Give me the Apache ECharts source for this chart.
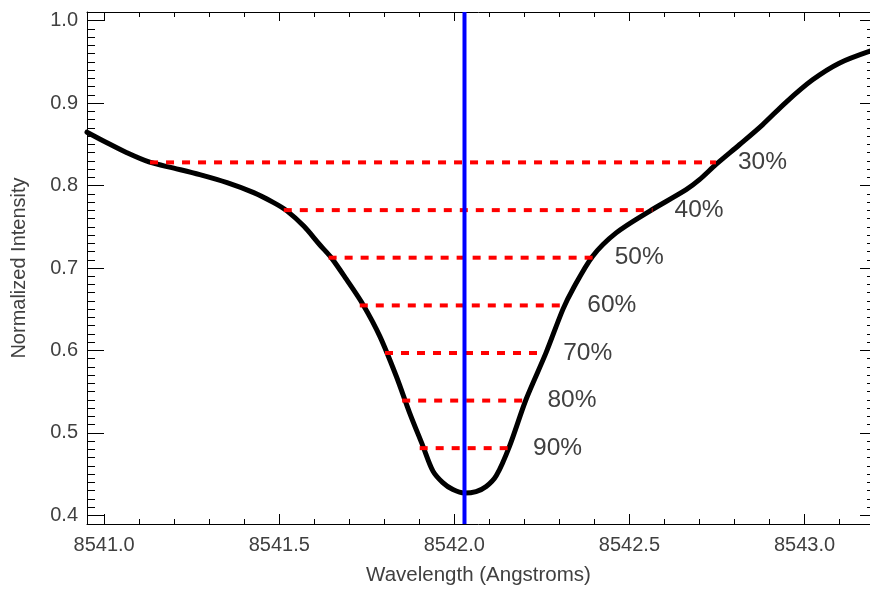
<!DOCTYPE html>
<html>
<head>
<meta charset="utf-8">
<script src="https://cdn.jsdelivr.net/npm/echarts@6.0.0/dist/echarts.min.js"></script>
<style>
  html, body { margin: 0; padding: 0; background: #ffffff; }
  #chart { width: 870px; height: 591px; }
</style>
</head>
<body>
<div id="chart"></div>
<script>
// Ca II 8542 line profile with bisector levels
const wavelength = [
  8540.951, 8541.008, 8541.065, 8541.130, 8541.199, 8541.273, 8541.351, 8541.427,
  8541.484, 8541.521, 8541.570, 8541.615, 8541.649, 8541.692, 8541.739, 8541.787,
  8541.834, 8541.872, 8541.910, 8541.939, 8541.967, 8541.996, 8542.029, 8542.062,
  8542.091, 8542.120, 8542.158, 8542.205, 8542.262, 8542.310, 8542.338, 8542.395,
  8542.462, 8542.557, 8542.662, 8542.700, 8542.748, 8542.814, 8542.880, 8542.947,
  8543.023, 8543.099, 8543.187
];
const intensity = [
  0.8647, 0.8519, 0.8398, 0.8283, 0.8211, 0.8132, 0.8035, 0.7914,
  0.7793, 0.7696, 0.7508, 0.7285, 0.7123, 0.6861, 0.6558, 0.6174,
  0.5690, 0.5247, 0.4843, 0.4536, 0.4397, 0.4312, 0.4270, 0.4288,
  0.4349, 0.4482, 0.4843, 0.5408, 0.5973, 0.6498, 0.6740, 0.7143,
  0.7426, 0.7688, 0.7950, 0.8071, 0.8259, 0.8495, 0.8737, 0.9010,
  0.9282, 0.9484, 0.9630
];

// bisector levels: depth label, intensity, blue-wing and red-wing wavelengths
const levelNames = ['30%', '40%', '50%', '60%', '70%', '80%', '90%'];
const levelIntensity = [0.8281, 0.7702, 0.7125, 0.6546, 0.5969, 0.5392, 0.4815];
const levelBlueWing = [8541.131, 8541.513, 8541.641, 8541.730, 8541.802, 8541.851, 8541.901];
const levelRedWing = [8542.747, 8542.566, 8542.395, 8542.317, 8542.248, 8542.203, 8542.162];

// line centre
const lineCenter = 8542.029;

// axis ranges and tick labels
const xRange = [8540.951, 8543.187];
const yRange = [0.3895, 1.0105];
const xTickValues = [8541.0, 8541.5, 8542.0, 8542.5, 8543.0];
const yTickValues = [0.4, 0.5, 0.6, 0.7, 0.8, 0.9, 1.0];

const xMinorValues = [];
for (let i = 0; i <= 21; i++) xMinorValues.push(+(8541.0 + i * 0.1).toFixed(1));
const yMinorValues = [];
for (let i = 0; i <= 60; i++) yMinorValues.push(+(0.40 + i * 0.01).toFixed(2));

const FONT = 'Liberation Sans, Arial, sans-serif';
const TEXT = '#404040';

function xAxisDef(position, values, len, withLine, withLabels) {
  return {
    type: 'value', position: position, min: xRange[0], max: xRange[1],
    splitLine: { show: false },
    axisLine: { show: withLine, lineStyle: { color: '#000', width: 1 } },
    axisTick: { show: true, inside: true, length: len, customValues: values,
                lineStyle: { color: '#000', width: 1 } },
    axisLabel: withLabels ? {
      show: true, customValues: values, margin: 11,
      fontSize: 20, fontFamily: FONT, color: TEXT,
      formatter: v => v.toFixed(1)
    } : { show: false }
  };
}
function yAxisDef(position, values, len, withLine, withLabels) {
  return {
    type: 'value', position: position, min: yRange[0], max: yRange[1],
    splitLine: { show: false },
    axisLine: { show: withLine, lineStyle: { color: '#000', width: 1 } },
    axisTick: { show: true, inside: true, length: len, customValues: values,
                lineStyle: { color: '#000', width: 1 } },
    axisLabel: withLabels ? {
      show: true, customValues: values, margin: 9,
      fontSize: 20, fontFamily: FONT, color: TEXT,
      formatter: v => v.toFixed(1)
    } : { show: false }
  };
}

const xAxes = [
  Object.assign(xAxisDef('bottom', xTickValues, 10, true, true), {
    name: 'Wavelength (Angstroms)', nameLocation: 'middle', nameGap: 41,
    nameTextStyle: { fontSize: 20.5, fontFamily: FONT, color: TEXT }
  }),
  xAxisDef('bottom', xMinorValues, 5, false, false),
  xAxisDef('top', xTickValues, 9, true, false),
  xAxisDef('top', xMinorValues, 5, false, false)
];
const yAxes = [
  Object.assign(yAxisDef('left', yTickValues, 17, true, true), {
    name: 'Normalized Intensity', nameLocation: 'middle', nameGap: 58,
    nameTextStyle: { fontSize: 20, fontFamily: FONT, color: TEXT }
  }),
  yAxisDef('left', yMinorValues, 8, false, false),
  yAxisDef('right', yTickValues, 10, true, false),
  yAxisDef('right', yMinorValues, 3, false, false)
];

const series = [];

// observed profile
series.push({
  type: 'line', name: 'profile', z: 2,
  data: wavelength.map((w, i) => [w, intensity[i]]),
  smooth: 0.3, showSymbol: false, symbol: 'none',
  lineStyle: { color: '#000', width: 5, cap: 'round', join: 'round' },
  clip: true
});

// bisector chords with their depth labels
levelNames.forEach((name, i) => {
  series.push({
    type: 'line', name: name, z: 3,
    data: [[levelBlueWing[i], levelIntensity[i]], [levelRedWing[i], levelIntensity[i]]],
    showSymbol: false, symbol: 'none',
    lineStyle: { color: '#ff0000', width: 4, type: [8, 8], cap: 'butt' },
    endLabel: {
      show: true, formatter: name, distance: 22,
      fontSize: 24.5, fontFamily: FONT, color: TEXT
    }
  });
});

// line centre marker
series.push({
  type: 'line', name: 'centre', z: 4,
  data: [[lineCenter, yRange[0]], [lineCenter, yRange[1]]],
  showSymbol: false, symbol: 'none',
  lineStyle: { color: '#0000ff', width: 4 }
});

const chart = echarts.init(document.getElementById('chart'), null, { renderer: 'canvas' });
chart.setOption({
  animation: false,
  backgroundColor: '#ffffff',
  grid: { left: 87, top: 12, width: 784, height: 513, containLabel: false },
  xAxis: xAxes,
  yAxis: yAxes,
  series: series
});
</script>
</body>
</html>
